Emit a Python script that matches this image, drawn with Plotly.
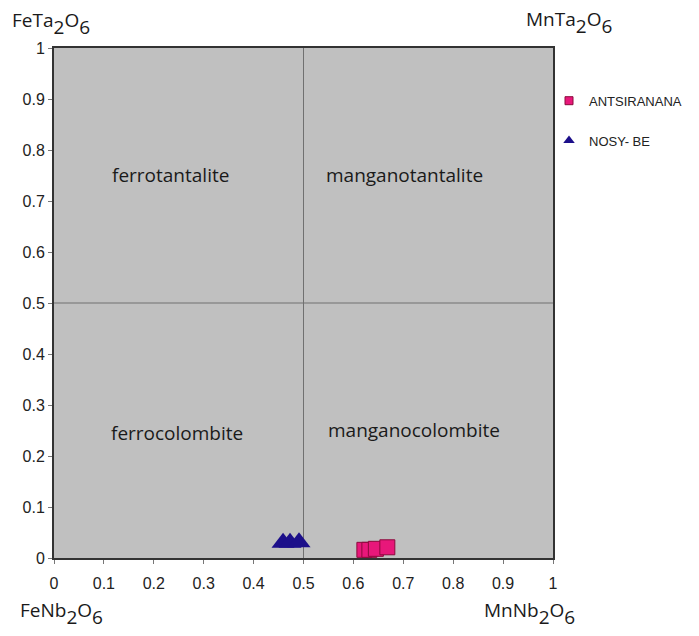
import plotly.graph_objects as go

# Data
antsiranana_x = [0.622, 0.632, 0.645, 0.668]
antsiranana_y = [0.016, 0.016, 0.018, 0.021]
nosybe_x = [0.459, 0.473, 0.491]
nosybe_y = [0.030, 0.030, 0.031]

tick_vals = [0, 0.1, 0.2, 0.3, 0.4, 0.5, 0.6, 0.7, 0.8, 0.9, 1]
tick_text = ["0", "0.1", "0.2", "0.3", "0.4", "0.5", "0.6", "0.7", "0.8", "0.9", "1"]

field_names = ["ferrotantalite", "manganotantalite", "ferrocolombite", "manganocolombite"]
field_x = [0.233, 0.703, 0.247, 0.722]
field_y = [0.751, 0.751, 0.245, 0.251]

SUB = '<sub><sub><span style="font-size:19px">{}</span></sub></sub>'
corner_labels = ["FeTa" + SUB.format("2") + "O" + SUB.format("6"),
                 "MnTa" + SUB.format("2") + "O" + SUB.format("6"),
                 "FeNb" + SUB.format("2") + "O" + SUB.format("6"),
                 "MnNb" + SUB.format("2") + "O" + SUB.format("6")]

pink = "#E8177A"
navy = "#1C0F8A"

fig = go.Figure()
fig.add_trace(go.Scatter(
    x=antsiranana_x, y=antsiranana_y, mode="markers", name="ANTSIRANANA",
    showlegend=False,
    marker=dict(symbol="square", size=15, color=pink,
                line=dict(color="#8B0A3C", width=1))))
fig.add_trace(go.Scatter(
    x=nosybe_x, y=nosybe_y, mode="markers", name="NOSY- BE",
    showlegend=False,
    marker=dict(symbol="triangle-up", size=20, color=navy,
                line=dict(color=navy, width=0))))
# legend entries (smaller legend symbols as in the reference)
fig.add_trace(go.Scatter(
    x=[None], y=[None], mode="markers", name="ANTSIRANANA", legendgroup="a",
    marker=dict(symbol="square", size=8, color=pink, line=dict(color="#8B0A3C", width=1))))
fig.add_trace(go.Scatter(
    x=[None], y=[None], mode="markers", name="NOSY- BE", legendgroup="b",
    marker=dict(symbol="triangle-up", size=10, color=navy, line=dict(width=0))))

# dividing lines at 0.5
fig.add_shape(type="line", x0=0.5, x1=0.5, y0=0, y1=1, xref="x", yref="y",
              line=dict(color="#707070", width=1), layer="below")
fig.add_shape(type="line", x0=0, x1=1, y0=0.5, y1=0.5, xref="x", yref="y",
              line=dict(color="#707070", width=1), layer="below")

for name, fx, fy in zip(field_names, field_x, field_y):
    fig.add_annotation(x=fx, y=fy, xref="x", yref="y", text=name, showarrow=False,
                       font=dict(family="Open Sans", size=19, color="#1a1a1a"))

corner_pos = [(-0.0875, 1.049), (0.942, 1.050), (-0.0716, -0.108), (0.857, -0.108)]
for lab, (cx, cy) in zip(corner_labels, corner_pos):
    fig.add_annotation(x=cx, y=cy, xref="paper", yref="paper", text=lab,
                       showarrow=False, xanchor="left", yanchor="middle",
                       font=dict(family="Open Sans", size=19, color="#1a1a1a"))

axis_common = dict(range=[0, 1], tickmode="array", tickvals=tick_vals, ticktext=tick_text,
                   showgrid=False, zeroline=False, showline=True, linecolor="#333333",
                   linewidth=2, mirror=True, ticks="outside", ticklen=4,
                   tickcolor="#777777", tickfont=dict(family="Liberation Sans", size=16,
                                                      color="#222222"))
fig.update_xaxes(**axis_common, ticklabelstandoff=6)
fig.update_yaxes(**axis_common)

fig.update_layout(
    width=691, height=628,
    margin=dict(l=46, r=142, t=40, b=78),
    plot_bgcolor="#C0C0C0", paper_bgcolor="white",
    showlegend=True,
    legend=dict(x=0.992, y=0.926, xanchor="left", yanchor="top",
                font=dict(family="Liberation Sans", size=13, color="#222222"),
                tracegroupgap=20, itemsizing="trace", bgcolor="rgba(0,0,0,0)"),
)

fig.write_html("out.html")
